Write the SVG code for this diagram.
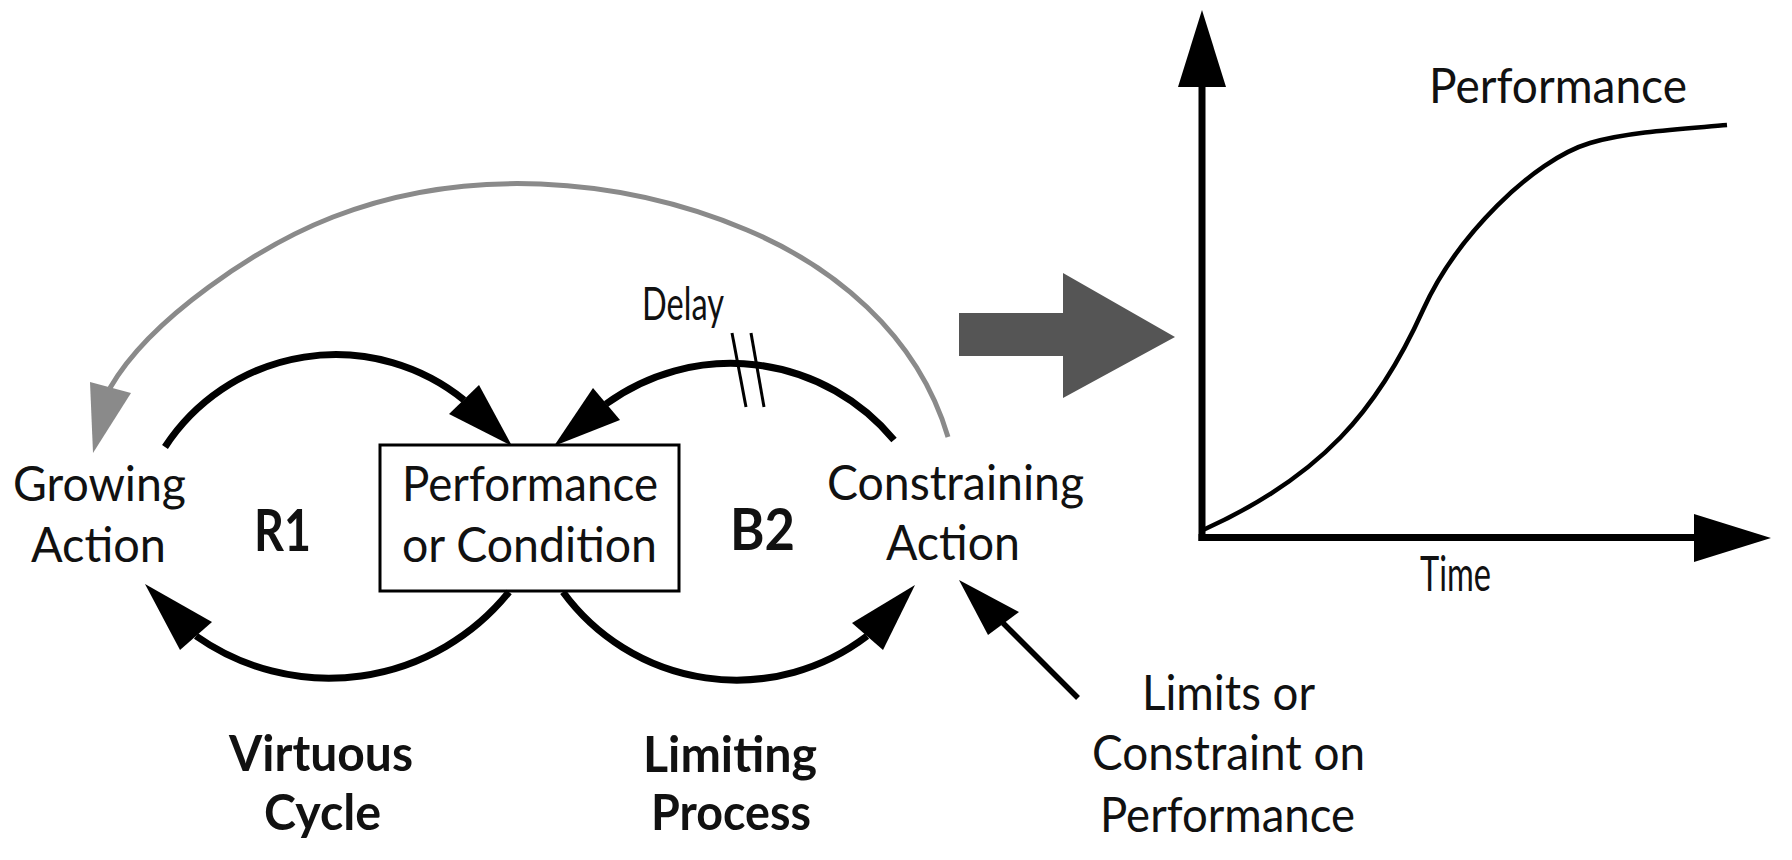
<svg xmlns="http://www.w3.org/2000/svg" width="1792" height="860" viewBox="0 0 1792 860">
  <style>
    .t { font-family: Lato, "Liberation Sans", "DejaVu Sans", sans-serif; font-size: 48px; fill: #111; }
    .b { font-weight: bold; font-size: 57px; }
    .m { font-weight: bold; font-size: 50px; }
    .c { font-size: 46px; }
    .blk { fill: none; stroke: #000; stroke-width: 7; }
    .gry { fill: none; stroke: #8a8a8a; stroke-width: 5; }
    .ahb { fill: #000; }
    .ahg { fill: #8a8a8a; }
  </style>
  <rect width="1792" height="860" fill="#fff"/>

  <g id="connectors">
    <!-- grey long feedback arc: Constraining Action -> Growing Action -->
    <path class="gry" d="M948,437 C916.7,331.6 830,264.9 747,230 C617.9,175.7 463.5,166.2 333,217 C258.4,246 150,318.4 110,388"/>
    <polygon class="ahg" points="93,453 90,382 131,393"/>

    <!-- R1 top: Growing Action -> Performance -->
    <path class="blk" d="M165,447 A204,204 0 0 1 464,400"/>
    <polygon class="ahb" points="512,446 449,414 479,385"/>

    <!-- R1 bottom: Performance -> Growing Action -->
    <path class="blk" d="M509,592 A231,231 0 0 1 196,636"/>
    <polygon class="ahb" points="145,584 180,650 212,622"/>

    <!-- B2 bottom: Performance -> Constraining Action -->
    <path class="blk" d="M563,592 A215,215 0 0 0 867,636"/>
    <polygon class="ahb" points="915,585 852,623 883,650"/>

    <!-- B2 top (with delay): Constraining Action -> Performance -->
    <path class="blk" d="M894,440 A212,212 0 0 0 606,404"/>
    <polygon class="ahb" points="554,446 593,388 620,420"/>
    <line x1="732" y1="333" x2="746" y2="407" stroke="#000" stroke-width="3"/>
    <line x1="751" y1="333" x2="764" y2="407" stroke="#000" stroke-width="3"/>

    <!-- Limits -> Constraining Action -->
    <line x1="1078" y1="698" x2="1003" y2="623" stroke="#000" stroke-width="5.5"/>
    <polygon class="ahb" points="959,580 988,635 1019,612"/>

    <!-- big grey arrow -->
    <polygon fill="#555" points="959,313 1063,313 1063,273 1175,337 1063,398 1063,356 959,356"/>
  </g>

  <g id="growing-action">
    <text class="t" x="13" y="501" textLength="173" lengthAdjust="spacingAndGlyphs">Growing</text>
    <text class="t" x="31" y="562" textLength="135" lengthAdjust="spacingAndGlyphs">Action</text>
  </g>

  <g id="performance-condition">
    <rect x="380" y="445" width="299" height="146" fill="none" stroke="#000" stroke-width="3"/>
    <text class="t" x="402" y="501" textLength="256" lengthAdjust="spacingAndGlyphs">Performance</text>
    <text class="t" x="402" y="562" textLength="255" lengthAdjust="spacingAndGlyphs">or Condition</text>
  </g>

  <g id="constraining-action">
    <text class="t" x="827" y="500" textLength="257" lengthAdjust="spacingAndGlyphs">Constraining</text>
    <text class="t" x="886" y="560" textLength="134" lengthAdjust="spacingAndGlyphs">Action</text>
  </g>

  <g id="limits">
    <text class="t" x="1142" y="710" textLength="173" lengthAdjust="spacingAndGlyphs">Limits or</text>
    <text class="t" x="1092" y="770" textLength="273" lengthAdjust="spacingAndGlyphs">Constraint on</text>
    <text class="t" x="1100" y="832" textLength="255" lengthAdjust="spacingAndGlyphs">Performance</text>
  </g>

  <g id="loop-labels">
    <text class="t b" x="254" y="551" textLength="57" lengthAdjust="spacingAndGlyphs">R1</text>
    <text class="t b" x="730" y="550" textLength="65" lengthAdjust="spacingAndGlyphs">B2</text>
    <text class="t c" x="642" y="320" textLength="82" lengthAdjust="spacingAndGlyphs">Delay</text>
    <text class="t m" x="229" y="771" textLength="184" lengthAdjust="spacingAndGlyphs">Virtuous</text>
    <text class="t m" x="264" y="830" textLength="117" lengthAdjust="spacingAndGlyphs">Cycle</text>
    <text class="t m" x="643" y="772" textLength="174" lengthAdjust="spacingAndGlyphs">Limiting</text>
    <text class="t m" x="651" y="830" textLength="160" lengthAdjust="spacingAndGlyphs">Process</text>
  </g>

  <g id="chart">
    <line x1="1202" y1="80" x2="1202" y2="541" stroke="#000" stroke-width="7"/>
    <polygon class="ahb" points="1202,10 1226,87 1178,87"/>
    <line x1="1198.5" y1="537.5" x2="1700" y2="537.5" stroke="#000" stroke-width="7"/>
    <polygon class="ahb" points="1771,538 1694,514 1694,562"/>
    <path fill="none" stroke="#000" stroke-width="4.5" d="M1203,530 C1321.3,476.7 1377.9,410.1 1423,310 C1455.8,237.2 1532.5,160.2 1590,143 C1628.3,131.5 1687,128.6 1727,125"/>
    <text class="t" x="1429" y="103" font-size="50" textLength="258" lengthAdjust="spacingAndGlyphs">Performance</text>
    <text class="t" x="1420" y="591" font-size="42" textLength="71" lengthAdjust="spacingAndGlyphs">Time</text>
  </g>
</svg>
